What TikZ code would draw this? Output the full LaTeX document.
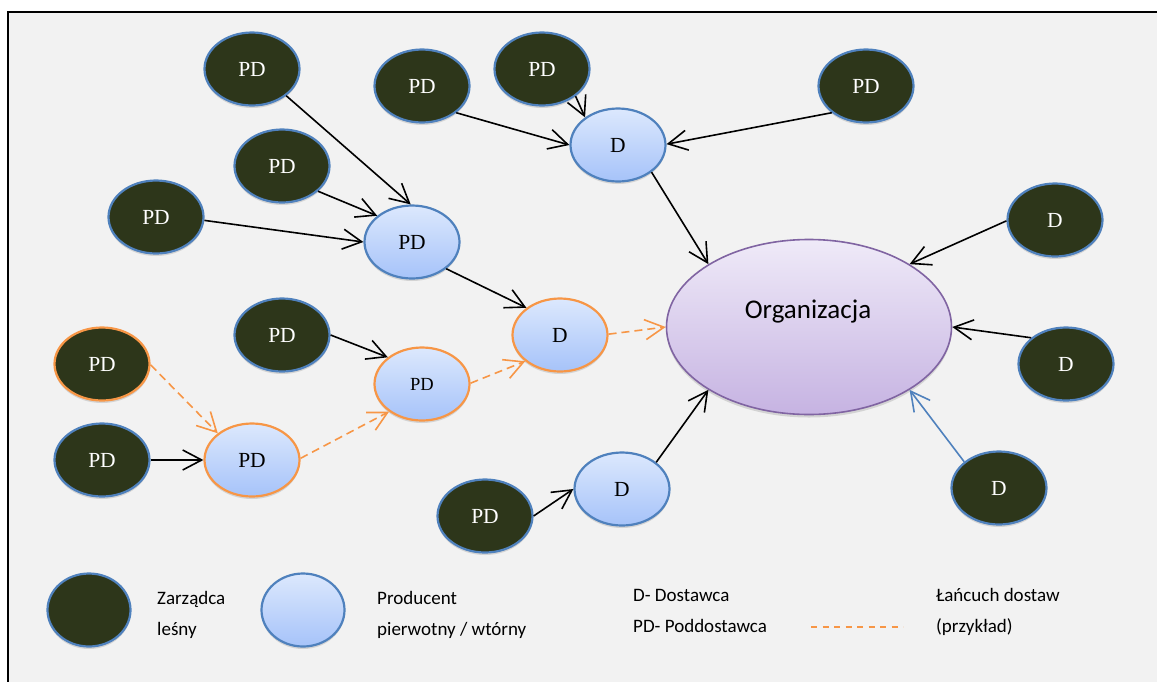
\documentclass[tikz,border=0pt]{standalone}
\usepackage{fontspec}
\setmainfont{Liberation Serif}
\newfontfamily\calibri{Carlito}
\usetikzlibrary{shapes.geometric,arrows.meta,shadows}
\definecolor{darkfill}{HTML}{2D361A}
\definecolor{nodeblue}{HTML}{4F81BD}
\definecolor{lbtop}{HTML}{DCE8FD}
\definecolor{lbbot}{HTML}{A6C3F9}
\definecolor{orng}{HTML}{F79646}
\definecolor{purp}{HTML}{8064A2}
\definecolor{pptop}{HTML}{EFEAF8}
\definecolor{ppbot}{HTML}{C6B3E2}
\definecolor{bggray}{HTML}{F2F2F2}
\tikzset{
  base/.style={ellipse, line width=2.2pt, minimum width=95pt, minimum height=73pt, inner sep=0pt,
    drop shadow={shadow xshift=0pt,shadow yshift=-2.5pt,opacity=0.22,fill=black!60},
    font=\fontsize{21.5}{21.5}\selectfont},
  dark/.style={base, draw=nodeblue, fill=darkfill, text=white},
  darko/.style={dark, draw=orng},
  light/.style={base, draw=nodeblue, top color=lbtop, bottom color=lbbot, text=black},
  lighto/.style={light, draw=orng},
  legsize/.style={minimum width=83pt, minimum height=73pt},
  conn/.style={line width=1.6pt, draw=black, -{Straight Barb[length=19pt,width=20pt]}},
  chain/.style={conn, draw=orng, dash pattern=on 8pt off 5pt},
  bluecon/.style={conn, draw=nodeblue},
  legtext/.style={font=\calibri\fontsize{19}{31}\selectfont, align=left, anchor=base west, inner sep=0pt}
}
\begin{document}
\begin{tikzpicture}[x=1pt,y=-1pt]
\path[use as bounding box] (0,0) rectangle (1157,681);
\draw[fill=bggray, line width=1.6pt] (8,12) rectangle (1175,700);

% main nodes
\node[ellipse, draw=purp, line width=1.6pt, top color=pptop, bottom color=ppbot,
  minimum width=285pt, minimum height=175pt, inner sep=0pt,
  drop shadow={shadow xshift=0pt,shadow yshift=-3pt,opacity=0.22,fill=black!60}] (org) at (809,327) {};
\node[font=\calibri\fontsize{27}{27}\selectfont, inner sep=0pt] (orgtext) at (808,312) {Organizacja};

\node[dark] (pd1) at (252,69) {PD};
\node[dark] (pd2) at (422,86) {PD};
\node[dark] (pd3) at (542,69) {PD};
\node[dark] (pd4) at (866,86) {PD};
\node[light] (dtop) at (618,145) {D};
\node[dark] (pd5) at (282,166) {PD};
\node[dark] (pd6) at (156,217) {PD};
\node[light] (pdmid) at (412,242) {PD};
\node[dark] (dr1) at (1055,220) {D};
\node[dark] (dr2) at (1066,364) {D};
\node[dark] (dr3) at (999,488) {D};
\node[lighto] (dorange) at (560,335) {D};
\node[lighto, font=\fontsize{18.5}{18.5}\selectfont] (pdorange) at (422,384) {PD};
\node[dark] (pd7) at (282,335) {PD};
\node[darko] (pdo) at (102,364) {PD};
\node[dark] (pd8) at (102,460) {PD};
\node[lighto] (pdo2) at (252,460) {PD};
\node[light] (dbot) at (622,489) {D};
\node[dark] (pd9) at (485,516) {PD};

% connectors
\draw[conn] (pd1.-38) -- (pdmid.92);
\draw[conn] (pd5.-35) -- (pdmid.143);
\draw[conn] (pd6.-4) -- (pdmid.180);
\draw[conn] (pd2.-38) -- (dtop.180);
\draw[conn] (pd3.-39) -- (dtop.140);
\draw[conn] (pd4.218) -- (dtop.1);
\draw[conn] (dtop.-39) -- (org.148);
\draw[conn] (dr1.181) -- (org.32);
\draw[conn] (dr2.143) -- (org.0);
\draw[bluecon] (dr3.143) -- (org.-32);
\draw[conn] (pdmid.-38) -- (dorange.141);
\draw[conn] (pd7.0) -- (pdorange.142);
\draw[chain] (pdo.-1) -- (pdo2.142);
\draw[conn] (pd8.0) -- (pdo2.180);
\draw[chain] (pdo2.2) -- (pdorange.220);
\draw[chain] (pdorange.1) -- (dorange.217);
\draw[chain] (dorange.1) -- (org.180);
\draw[conn] (pd9.0) -- (dbot.180);
\draw[conn] (dbot.38) -- (org.212);

% legend
\node[dark, legsize] (legdark) at (89,610) {};
\node[light, legsize] (leglight) at (303,610) {};
\node[legtext] (legt1) at (157,635) {Zarządca\\leśny};
\node[legtext] (legt2) at (377,635) {Producent\\pierwotny / wtórny};
\node[legtext] (legt3) at (633,632) {D- Dostawca\\PD- Poddostawca};
\node[legtext] (legt4) at (936,632) {Łańcuch dostaw\\(przykład)};
\coordinate (dashA) at (811,627);
\coordinate (dashB) at (903,627);
\draw[orng, line width=1.6pt, dash pattern=on 6pt off 5.5pt] (dashA) -- (dashB);
\end{tikzpicture}
\end{document}
